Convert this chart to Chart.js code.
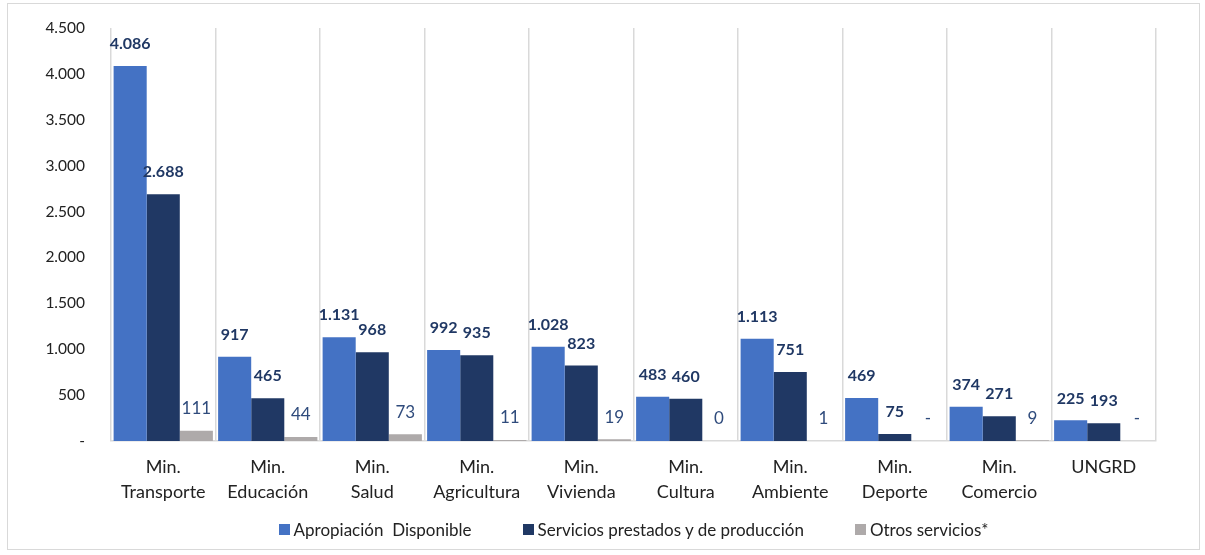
<!DOCTYPE html>
<html>
<head>
<meta charset="utf-8">
<script src="https://cdn.jsdelivr.net/npm/chart.js@4.4.1/dist/chart.umd.min.js"></script>
<style>
  html, body { margin: 0; padding: 0; background: #fff; }
  #box { position: absolute; left: 7px; top: 3px; width: 1191px; height: 545px; border: 1px solid #d9d9d9; }
  canvas { display: block; }
  #legend { position: absolute; top: 515px; height: 20px; margin: 0; padding: 0; list-style: none;
            display: flex; justify-content: center; align-items: center; gap: 51px;
            font-family: Lato, 'Open Sans', sans-serif; font-size: 17px; color: #222; white-space: pre; }
  #legend li { display: flex; align-items: center; }
  #legend .sw { display: inline-block; width: 11px; height: 11px; margin-right: 4px; }
</style>
</head>
<body>
<div id="box"><canvas id="c" width="1191" height="545"></canvas><ul id="legend"></ul></div>
<script>
const categories = [["Min.","Transporte"],["Min.","Educación"],["Min.","Salud"],["Min.","Agricultura"],["Min.","Vivienda"],["Min.","Cultura"],["Min.","Ambiente"],["Min.","Deporte"],["Min.","Comercio"],["UNGRD"]];
const apropiacion = [4086, 917, 1131, 992, 1028, 483, 1113, 469, 374, 225];
const servicios = [2688, 465, 968, 935, 823, 460, 751, 75, 271, 193];
const otros = [111, 44, 73, 11, 19, 0.3, 1, 0, 9, 0];
const seriesNames = ["Apropiación  Disponible", "Servicios prestados y de producción", "Otros servicios*"];
const yTicks = [0, 500, 1000, 1500, 2000, 2500, 3000, 3500, 4000, 4500];

const FONT = "Lato, 'Open Sans', sans-serif";
function fmt(v) {
  if (v === 0) return "-";
  const r = Math.round(v);
  return r.toString().replace(/\B(?=(\d{3})+(?!\d))/g, ".");
}

const labelPlugin = {
  id: 'valueLabels',
  afterDatasetsDraw(chart) {
    const ctx = chart.ctx;
    ctx.save();
    ctx.textAlign = 'center';
    ctx.textBaseline = 'middle';
    chart.data.datasets.forEach((ds, di) => {
      const meta = chart.getDatasetMeta(di);
      meta.data.forEach((bar, i) => {
        const v = ds.data[i];
        if (di < 2) {
          ctx.font = "bold 16px " + FONT;
          ctx.fillStyle = "#203864";
        } else {
          ctx.font = "17px " + FONT;
          ctx.fillStyle = "#2F4B7C";
        }
        ctx.fillText(fmt(v), bar.x, bar.y - 22);
      });
    });
    ctx.restore();
  }
};

const htmlLegendPlugin = {
  id: 'htmlLegend',
  afterUpdate(chart) {
    const ul = document.getElementById('legend');
    while (ul.firstChild) ul.firstChild.remove();
    const items = Chart.defaults.plugins.legend.labels.generateLabels(chart);
    items.forEach(item => {
      const li = document.createElement('li');
      const sw = document.createElement('span');
      sw.className = 'sw';
      sw.style.background = item.fillStyle;
      const tx = document.createElement('span');
      tx.textContent = item.text;
      li.appendChild(sw);
      li.appendChild(tx);
      ul.appendChild(li);
    });
    const ca = chart.chartArea;
    ul.style.left = ca.left + 'px';
    ul.style.width = (ca.right - ca.left) + 'px';
  }
};

new Chart(document.getElementById('c'), {
  type: 'bar',
  data: {
    labels: categories,
    datasets: [
      { label: seriesNames[0], data: apropiacion, backgroundColor: '#4472C4' },
      { label: seriesNames[1], data: servicios, backgroundColor: '#203864' },
      { label: seriesNames[2], data: otros, backgroundColor: '#AEAAAA' }
    ]
  },
  options: {
    responsive: false,
    animation: false,
    layout: { padding: { top: 24, left: 0, right: 43, bottom: 38 } },
    datasets: { bar: { categoryPercentage: 0.95, barPercentage: 1.0 } },
    scales: {
      x: {
        grid: { display: true, color: '#D9D9D9', lineWidth: 1.5, drawTicks: false, offset: true },
        border: { display: true, color: '#D9D9D9', width: 1.5 },
        ticks: { color: '#222', font: { family: FONT, size: 18, lineHeight: 1.39 }, padding: 14, maxRotation: 0, autoSkip: false },
        afterFit(s) { s.height = 70; }
      },
      y: {
        min: 0, max: 4500,
        afterBuildTicks(s) { s.ticks = yTicks.map(v => ({ value: v })); },
        grid: { display: false, drawTicks: true, tickLength: 16 },
        border: { display: false },
        ticks: {
          color: '#222', font: { family: FONT, size: 15.5 }, padding: 10,
          callback: v => v === 0 ? "-" : fmt(v)
        },
        afterFit(s) { s.width = 103; }
      }
    },
    plugins: {
      legend: { display: false },
      tooltip: { enabled: false }
    }
  },
  plugins: [labelPlugin, htmlLegendPlugin]
});
</script>
</body>
</html>
